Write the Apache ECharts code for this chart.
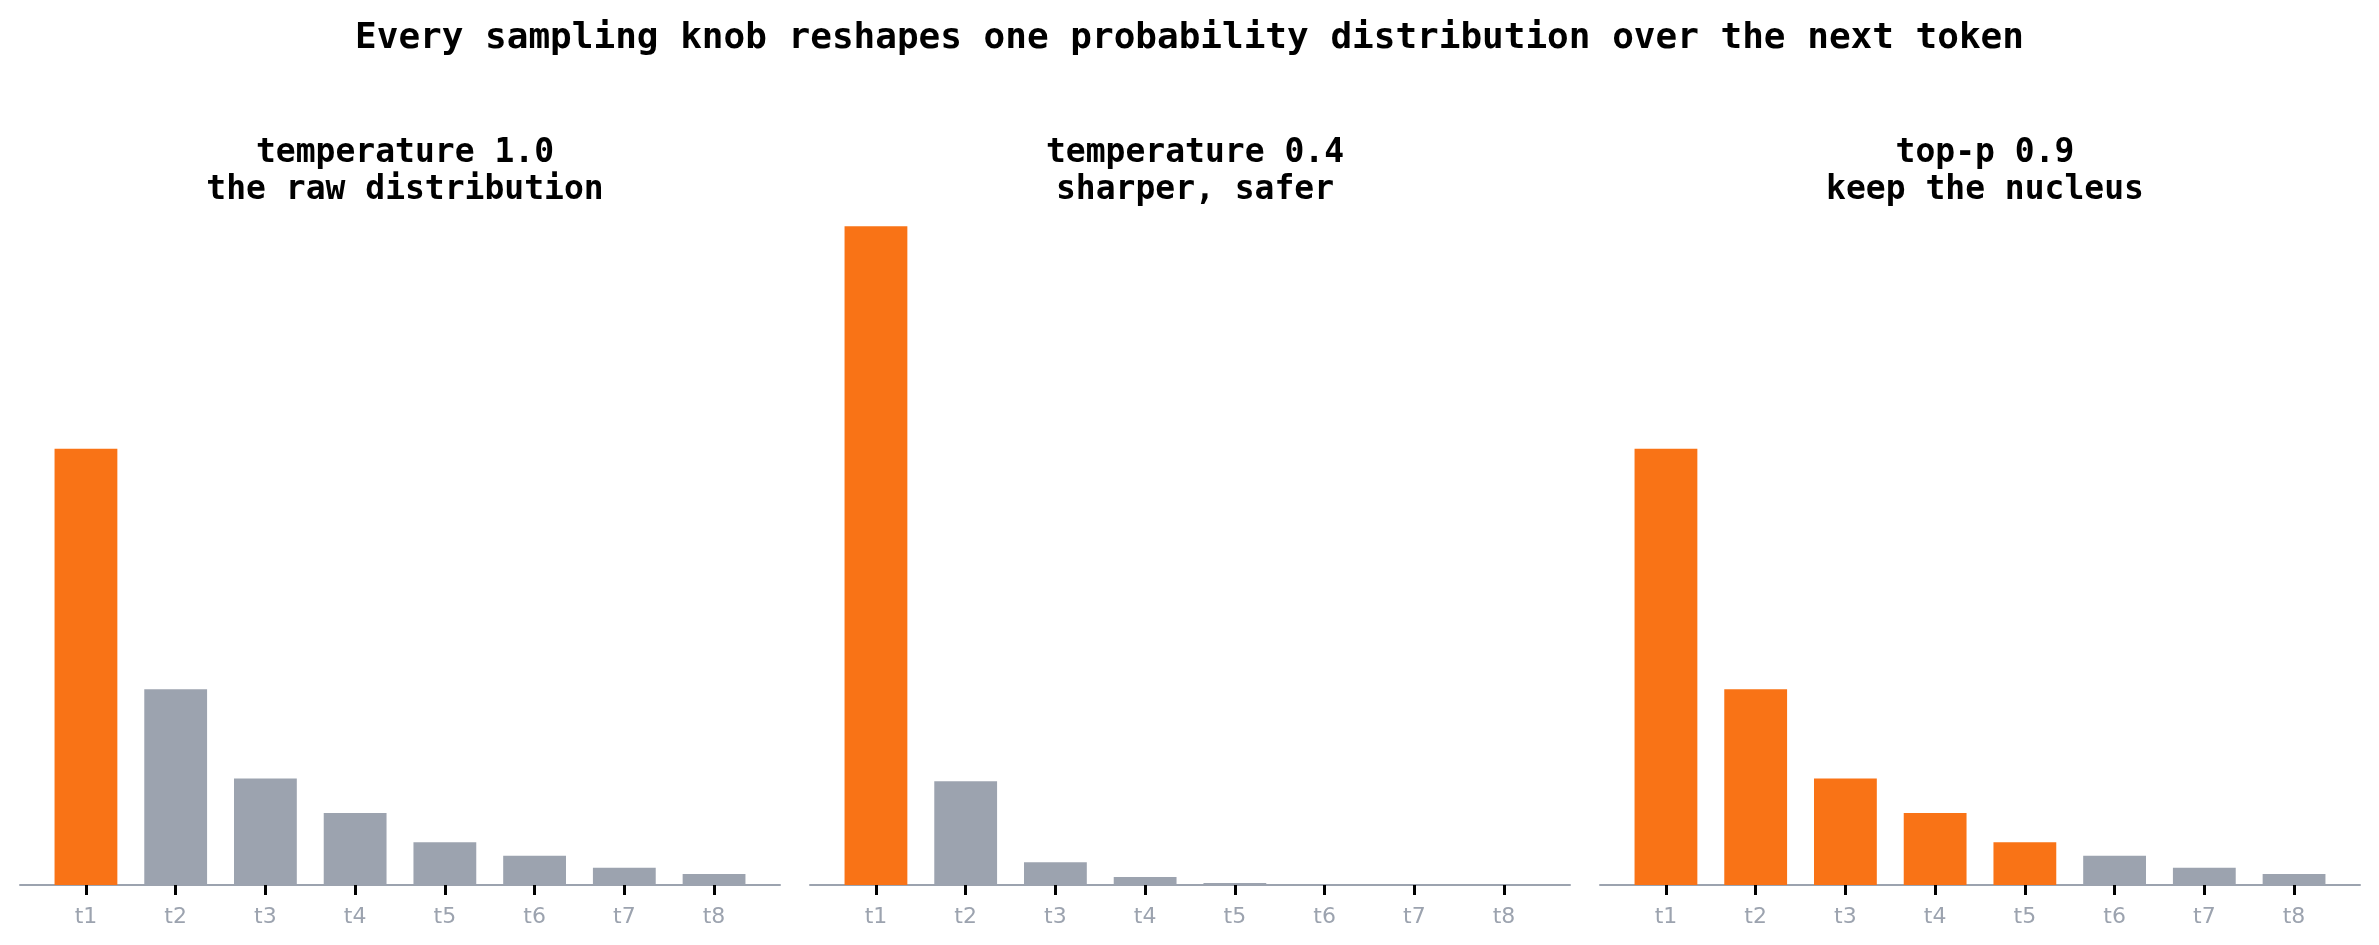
<!DOCTYPE html>
<html>
<head>
<meta charset="utf-8">
<title>sampling knobs</title>
<script src="https://cdn.jsdelivr.net/npm/echarts@6/dist/echarts.min.js"></script>
<style>
  html, body { margin: 0; padding: 0; background: #fff; }
  #main { width: 2379px; height: 945px; }
</style>
</head>
<body>
<div id="main"></div>
<script>
// categories (next-token candidates)
var tokens = ['t1', 't2', 't3', 't4', 't5', 't6', 't7', 't8'];

// probabilities
var temp10 = [0.479, 0.215, 0.117, 0.079, 0.047, 0.032, 0.019, 0.012];
var temp04 = [0.7235, 0.114, 0.025, 0.0087, 0.0022, 0.0005, 0.0001, 0.00003];
var topP09 = [0.479, 0.215, 0.117, 0.079, 0.047, 0.032, 0.019, 0.012];

// how many of the leading tokens are highlighted in each panel
var kept = [1, 1, 5];

var panelTitles = [
  'temperature 1.0\nthe raw distribution',
  'temperature 0.4\nsharper, safer',
  'top-p 0.9\nkeep the nucleus'
];

var ORANGE = '#f97316';
var GREY = '#9ca3af';
var MONO = '"DejaVu Sans Mono", monospace';

var allSeries = [temp10, temp04, topP09];
var panelLeft = [20, 810, 1600];
var panelW = 760;
// matplotlib-style x margins: bars of width 0.7, 5% padding on each side
var unit = panelW / 8.47;
var pad = 0.235 * unit;

var option = {
  animation: false,
  title: [{
    text: 'Every sampling knob reshapes one probability distribution over the next token',
    left: 'center',
    top: 16,
    textStyle: { fontFamily: MONO, fontWeight: 'bold', fontSize: 36, color: '#000' }
  }],
  grid: [],
  xAxis: [],
  yAxis: [],
  series: []
};

// wide grids that only carry the long baseline of each panel
allSeries.forEach(function (vals, k) {
  option.grid.push({ left: panelLeft[k], width: panelW, top: 193, bottom: 60 });
  option.xAxis.push({
    gridIndex: k, type: 'value', min: 0, max: 1,
    splitLine: { show: false }, axisTick: { show: false }, axisLabel: { show: false },
    axisLine: { show: true, lineStyle: { color: GREY, width: 2 } }
  });
  option.yAxis.push({ gridIndex: k, type: 'value', min: 0, max: 1, show: false });
});

allSeries.forEach(function (vals, k) {
  option.title.push({
    text: panelTitles[k],
    left: panelLeft[k] + panelW / 2,
    top: 130,
    textAlign: 'center',
    textStyle: { fontFamily: MONO, fontWeight: 'bold', fontSize: 33, lineHeight: 37, color: '#000' }
  });

  // inner grid: bars, ticks and labels, one band per token
  var g = option.grid.length;
  option.grid.push({ left: panelLeft[k] + pad, width: 8 * unit, top: 193, bottom: 60 });
  option.xAxis.push({
    gridIndex: g,
    type: 'category',
    data: tokens,
    axisLine: { show: false },
    axisTick: { show: true, alignWithLabel: true, length: 10, lineStyle: { color: 'black', width: 3 } },
    axisLabel: {
      color: GREY,
      fontFamily: '"DejaVu Sans", sans-serif',
      fontSize: 22,
      margin: 21
    }
  });
  option.yAxis.push({ gridIndex: g, type: 'value', min: 0, max: 0.76, show: false });
  option.series.push({
    type: 'bar',
    xAxisIndex: g,
    yAxisIndex: g,
    barWidth: '70%',
    data: vals.map(function (v, i) {
      return { value: v, itemStyle: { color: i < kept[k] ? ORANGE : GREY } };
    })
  });
});

var myChart = echarts.init(document.getElementById('main'));
myChart.setOption(option);
</script>
</body>
</html>
